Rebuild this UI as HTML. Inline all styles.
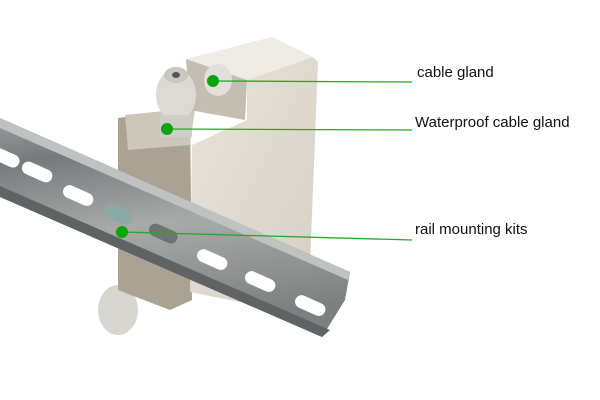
<!DOCTYPE html>
<html><head><meta charset="utf-8"><style>
body{margin:0;background:#fff;width:600px;height:400px;overflow:hidden}
svg{display:block}
text{font-family:"Liberation Sans",sans-serif;font-size:15px;fill:#111}
</style></head><body>
<svg width="600" height="400" viewBox="0 0 600 400">
<defs>
<linearGradient id="rail" x1="0" y1="0" x2="0.2" y2="1">
<stop offset="0" stop-color="#9a9d9e"/><stop offset="0.2" stop-color="#767a7b"/><stop offset="0.55" stop-color="#a8aaa9"/><stop offset="1" stop-color="#7d8080"/></linearGradient>
<linearGradient id="box" x1="0" y1="0" x2="1" y2="1">
<stop offset="0" stop-color="#e9e3da"/><stop offset="1" stop-color="#d6cfc4"/></linearGradient>
</defs>
<ellipse cx="118" cy="310" rx="20" ry="25" fill="#d8d6d0"/>
<polygon points="118,118 190,108 192,300 170,310 118,290" fill="#aaa293"/>
<polygon points="125,115 195,108 190,145 128,150" fill="#cdc6ba"/>
<polygon points="186,59 272,37 313,57 247,80" fill="#efebe5"/>
<polygon points="186,59 247,80 245,120 190,110" fill="#c4bdb1"/>
<polygon points="247,80 313,57 318,62 310,265 240,302 190,292 192,145 247,120" fill="url(#box)"/>
<ellipse cx="176" cy="95" rx="20" ry="26" fill="#dcdad5"/>
<ellipse cx="176" cy="75" rx="12" ry="8" fill="#c8c6c0"/>
<ellipse cx="176" cy="75" rx="4" ry="3" fill="#555"/>
<ellipse cx="218" cy="80" rx="14" ry="16" fill="#e2e0dc"/>
<rect x="160" y="115" width="32" height="22" fill="#cfcdc7"/>
<polygon points="0,118 350,272 345,300 322,337 0,197" fill="url(#rail)"/>
<polygon points="0,118 350,272 348,280 0,128" fill="#c0c2c2"/>
<polygon points="0,186 330,330 322,337 0,197" fill="#606364"/>
<g fill="#fff">
<rect x="-10" y="151" width="30" height="13" rx="6.5" transform="rotate(24 5 158)"/>
<rect x="21" y="165" width="32" height="13" rx="6.5" transform="rotate(24 36 172)"/>
<rect x="62" y="189" width="32" height="13" rx="6.5" transform="rotate(24 78 196)"/>
<rect x="196" y="253" width="32" height="13" rx="6.5" transform="rotate(24 212 260)"/>
<rect x="244" y="275" width="32" height="13" rx="6.5" transform="rotate(24 260 282)"/>
<rect x="294" y="299" width="32" height="13" rx="6.5" transform="rotate(24 310 306)"/>
</g>
<rect x="103" y="207" width="30" height="14" rx="7" transform="rotate(24 118 214)" fill="#8aa8a6"/>
<rect x="148" y="227" width="30" height="13" rx="6.5" transform="rotate(24 163 234)" fill="#6e7372"/>
<g stroke="#2aa52a" stroke-width="1.3">
<line x1="213" y1="81" x2="412" y2="82"/>
<line x1="167" y1="129" x2="412" y2="130"/>
<line x1="122" y1="232" x2="412" y2="240"/>
</g>
<g fill="#0aa50a">
<circle cx="213" cy="81" r="6"/>
<circle cx="167" cy="129" r="6"/>
<circle cx="122" cy="232" r="6"/>
</g>
<text x="417" y="77">cable gland</text>
<text x="415" y="127">Waterproof cable gland</text>
<text x="415" y="234">rail mounting kits</text>
</svg>
</body></html>
